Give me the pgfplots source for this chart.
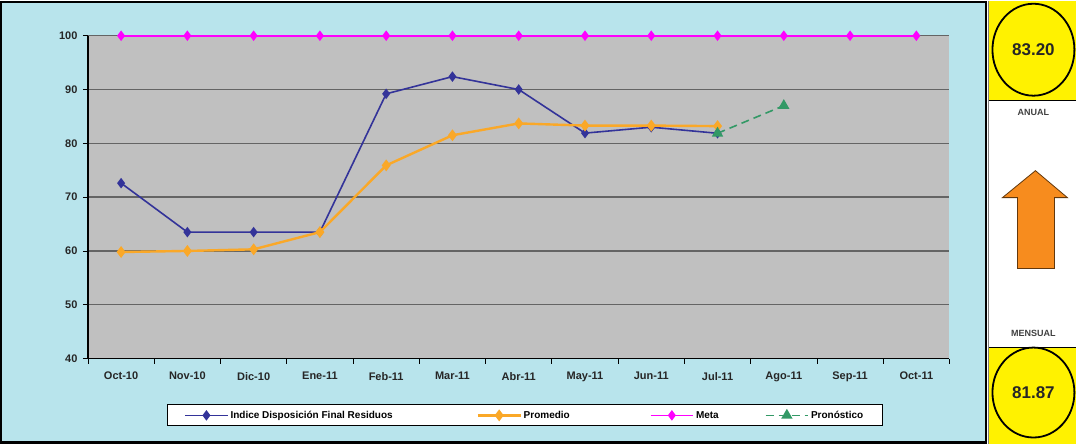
\documentclass[border=0pt]{standalone}
\usepackage{pgfplots}
\pgfplotsset{compat=1.18}
\usepackage{fontspec}
\setmainfont{Liberation Sans}
\definecolor{bgcyan}{RGB}{184,228,236}
\definecolor{plotgray}{RGB}{192,192,192}
\definecolor{gridgray}{RGB}{100,100,100}
\definecolor{navy}{RGB}{51,51,153}
\definecolor{orng}{RGB}{250,168,40}
\definecolor{magen}{RGB}{255,0,255}
\definecolor{grn}{RGB}{51,153,102}
\definecolor{arrowor}{RGB}{247,140,30}
\begin{document}
\begin{tikzpicture}
% outer backgrounds
\fill[bgcyan] (0pt,0pt) rectangle (988pt,443pt);
\draw[black,line width=2.5pt] (1.25pt,1.25pt) rectangle (986.75pt,441.75pt);
\fill[white] (990pt,0pt) rectangle (1077pt,443pt);
\fill[yellow] (990pt,343pt) rectangle (1077pt,443pt);
\fill[yellow] (990pt,0pt) rectangle (1077pt,96pt);
\draw[black,line width=1.2pt] (990pt,343pt) -- (1077pt,343pt);
\draw[black,line width=1.2pt] (990pt,96pt) -- (1077pt,96pt);
\draw[gray,line width=1.5pt] (989pt,0pt) -- (989pt,443pt);
\draw[black,line width=1.8pt] (1034pt,394pt) ellipse (41pt and 46pt);
\draw[black,line width=1.8pt] (1034pt,51pt) ellipse (41pt and 45pt);
\node[font=\bfseries\fontsize{17}{19}\selectfont,text=black!85] at (1034pt,394pt) {83.20};
\node[font=\bfseries\fontsize{17}{19}\selectfont,text=black!85] at (1034pt,51pt) {81.87};
\node[font=\bfseries\fontsize{9}{10}\selectfont,text=black!75] at (1034pt,331pt) {ANUAL};
\node[font=\bfseries\fontsize{9}{10}\selectfont,text=black!75] at (1034pt,110pt) {MENSUAL};
\filldraw[fill=arrowor,draw=black!60!arrowor,line width=0.8pt]
  (1036pt,273pt) -- (1068pt,246pt) -- (1055pt,246pt) -- (1055pt,175pt)
  -- (1018pt,175pt) -- (1018pt,246pt) -- (1003pt,246pt) -- cycle;
\begin{axis}[
  at={(88pt,85pt)}, anchor=south west,
  scale only axis, width=862pt, height=323pt,
  xmin=-0.5, xmax=12.5, ymin=40, ymax=100,
  axis background/.style={fill=plotgray},
  axis lines*=left,
  axis line style={black,line width=1.2pt},
  clip=false,
  xtick={0,...,12},
  xticklabels={Oct-10,Nov-10,Dic-10,Ene-11,Feb-11,Mar-11,Abr-11,May-11,Jun-11,Jul-11,Ago-11,Sep-11,Oct-11},
  minor xtick={-0.5,0.5,...,12.5},
  major x tick style={draw=none},
  minor x tick style={black,line width=0.8pt},
  ytick={40,50,...,100},
  y tick style={black,line width=0.8pt},
  tick align=outside,
  major tick length=5pt, minor tick length=5pt,
  ymajorgrids,
  grid style={gridgray,line width=1.5pt},
  /pgf/number format/assume math mode=true,
  tick label style={font=\bfseries\fontsize{11}{12}\selectfont,text=black!85},
  xticklabel style={yshift=-5pt},
  yticklabel style={xshift=-2pt},
  legend columns=4,
  legend image code/.code={\draw[mark repeat=2,mark phase=2,#1] plot coordinates {(0cm,0cm) (0.75cm,0cm) (1.5cm,0cm)};},
  legend style={at={(0.507,-0.176)}, anchor=center, draw=black, fill=white,
    line width=1pt,
    font=\bfseries\fontsize{10}{11}\selectfont,
    /tikz/column 2/.style={column sep=82pt},
    /tikz/column 4/.style={column sep=78pt},
    /tikz/column 6/.style={column sep=44pt},
    inner xsep=17pt, inner ysep=4pt},
  legend cell align=left,
]
\addplot[navy, line width=1.6pt, mark=diamond*, mark size=4pt, mark options={solid,fill=navy}]
  coordinates {(0,72.6) (1,63.5) (2,63.5) (3,63.5) (4,89.2) (5,92.4) (6,90.0) (7,81.9) (8,83.0) (9,81.87)};
\addlegendentry{Indice Disposición Final Residuos}
\addplot[orng, line width=2.4pt, mark=diamond*, mark size=4pt, mark options={solid,fill=orng}]
  coordinates {(0,59.8) (1,60.0) (2,60.3) (3,63.5) (4,75.9) (5,81.5) (6,83.7) (7,83.3) (8,83.3) (9,83.2)};
\addlegendentry{Promedio}
\addplot[magen, line width=1.6pt, mark=diamond*, mark size=4pt, mark options={solid,fill=magen}]
  coordinates {(0,100) (1,100) (2,100) (3,100) (4,100) (5,100) (6,100) (7,100) (8,100) (9,100) (10,100) (11,100) (12,100)};
\addlegendentry{Meta}
\addplot[grn, line width=1.6pt, dash pattern=on 8pt off 5pt, mark=triangle*, mark size=5pt, mark options={solid,fill=grn}]
  coordinates {(9,81.87) (10,87.0)};
\addlegendentry{Pronóstico}
\end{axis}
\end{tikzpicture}
\end{document}
